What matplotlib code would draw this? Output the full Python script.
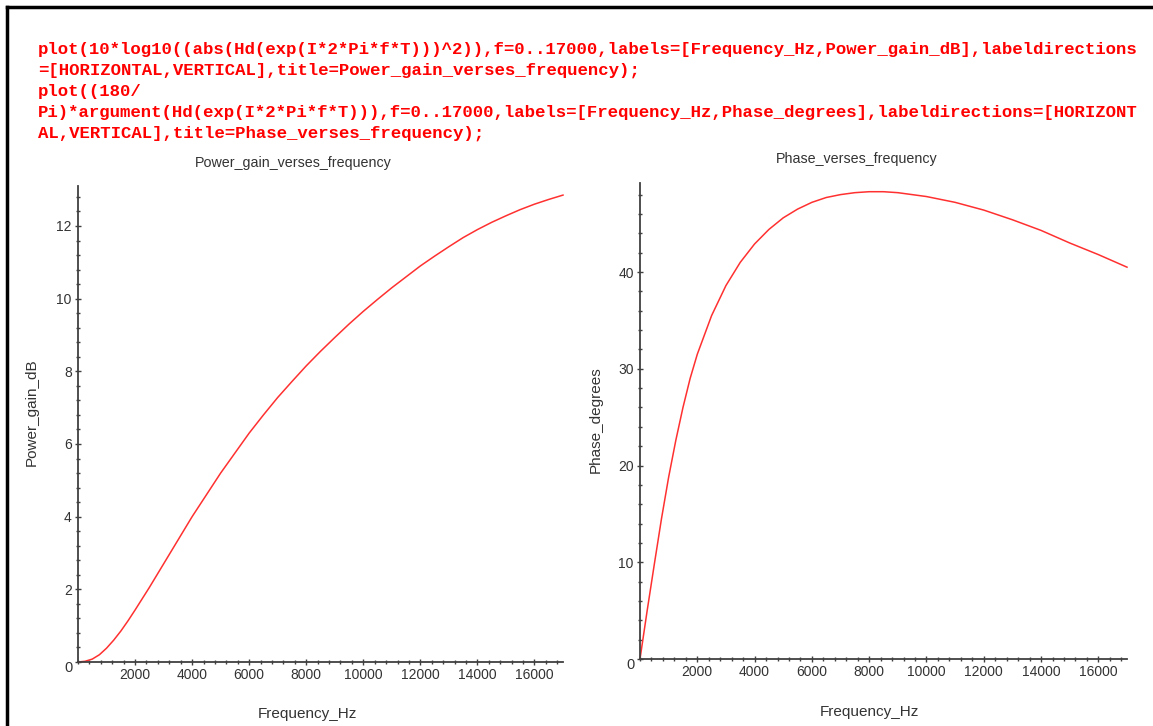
import matplotlib
matplotlib.use("Agg")
import matplotlib.pyplot as plt
from matplotlib.lines import Line2D
from matplotlib.ticker import MultipleLocator

# values
freq_gain = [0, 250, 500, 750, 1000, 1250, 1500, 1750, 2000, 2500, 3000, 3500,
             4000, 4500, 5000, 5500, 6000, 6500, 7000, 7500, 8000, 8500, 9000,
             9500, 10000, 10500, 11000, 11500, 12000, 12500, 13000, 13500,
             14000, 14500, 15000, 15500, 16000, 16500, 17000]
gain_db = [0, 0.02, 0.08, 0.2, 0.38, 0.6, 0.85, 1.13, 1.43, 2.05, 2.7, 3.35,
           4.0, 4.6, 5.2, 5.75, 6.3, 6.8, 7.28, 7.72, 8.15, 8.55, 8.93,
           9.3, 9.65, 9.98, 10.3, 10.6, 10.9, 11.17, 11.43, 11.68,
           11.9, 12.1, 12.28, 12.45, 12.6, 12.73, 12.85]

freq_phase = [0, 250, 500, 750, 1000, 1250, 1500, 1750, 2000, 2500, 3000, 3500,
              4000, 4500, 5000, 5500, 6000, 6500, 7000, 7500, 8000, 8500, 9000,
              9500, 10000, 11000, 12000, 13000, 14000, 15000, 16000, 17000]
phase_deg = [0, 5.0, 9.8, 14.5, 18.8, 22.6, 26.0, 29.0, 31.5, 35.5, 38.6, 41.0,
             42.9, 44.4, 45.6, 46.5, 47.2, 47.7, 48.0, 48.2, 48.3, 48.3, 48.2,
             48.0, 47.8, 47.2, 46.4, 45.4, 44.3, 43.0, 41.8, 40.5]

code_lines = [
    "plot(10*log10((abs(Hd(exp(I*2*Pi*f*T)))^2)),f=0..17000,labels=[Frequency_Hz,Power_gain_dB],labeldirections",
    "=[HORIZONTAL,VERTICAL],title=Power_gain_verses_frequency);",
    "plot((180/",
    "Pi)*argument(Hd(exp(I*2*Pi*f*T))),f=0..17000,labels=[Frequency_Hz,Phase_degrees],labeldirections=[HORIZONT",
    "AL,VERTICAL],title=Phase_verses_frequency);",
]

W, H = 1153, 726
fig = plt.figure(figsize=(W / 100, H / 100), dpi=100)
plt.rcParams['font.family'] = ['Liberation Sans', 'DejaVu Sans']

# frame lines of the worksheet (left and top only)
fig.add_artist(Line2D([7 / W, 7 / W], [0, 1 - 7 / H], color="black", lw=2.5))
fig.add_artist(Line2D([7 / W, 1], [1 - 7 / H, 1 - 7 / H], color="black", lw=2.5))

for i, line in enumerate(code_lines):
    fig.text(38 / W, 1 - (54 + 21 * i) / H, line, family="Liberation Mono",
             weight="bold", fontsize=12.5, color="#ff0000", va="baseline", ha="left")

grey = "#333333"


def style(ax, ymax, yticks, yminor):
    ax.set_xlim(0, 17000)
    ax.set_ylim(0, ymax)
    for s in ["top", "right"]:
        ax.spines[s].set_visible(False)
    for s in ["left", "bottom"]:
        ax.spines[s].set_color("#404040")
        ax.spines[s].set_linewidth(1.3)
    ax.xaxis.set_minor_locator(MultipleLocator(400))
    ax.yaxis.set_minor_locator(MultipleLocator(yminor))
    ax.set_xticks([2000 * k for k in range(1, 9)])
    ax.set_yticks(yticks)
    # the zero label is placed by hand like Maple does
    ax.set_yticklabels(["" if t == 0 else str(t) for t in yticks])
    ax.tick_params(which="major", direction="inout", length=5, width=1,
                   color="#404040", labelsize=10, labelcolor=grey, pad=2)
    ax.tick_params(which="minor", direction="inout", length=3, width=1, color="#404040")
    ax.set_facecolor("none")


ax1 = fig.add_axes([78 / W, (H - 662) / H, 485 / W, 476 / H])
ax1.plot(freq_gain, gain_db, color="#ff3030", lw=1.1, clip_on=False)
style(ax1, 13.1, [0, 2, 4, 6, 8, 10, 12], 0.4)
fig.text(293 / W, 1 - 163 / H, "Power_gain_verses_frequency", ha="center", va="center",
         fontsize=10.3, color=grey)
fig.text(307 / W, 1 - 714 / H, "Frequency_Hz", ha="center", va="center",
         fontsize=11, color=grey)
fig.text(32 / W, 1 - 412 / H, "Power_gain_dB", ha="center", va="center",
         rotation=90, fontsize=11, color=grey)
fig.text(73 / W, 1 - 668 / H, "0", ha="right", va="center", fontsize=10.5, color=grey)

ax2 = fig.add_axes([640 / W, (H - 659) / H, 487 / W, 476 / H])
ax2.plot(freq_phase, phase_deg, color="#ff3030", lw=1.1, clip_on=False)
style(ax2, 49.2, [0, 10, 20, 30, 40], 2)
fig.text(857 / W, 1 - 159 / H, "Phase_verses_frequency", ha="center", va="center",
         fontsize=10.3, color=grey)
fig.text(869 / W, 1 - 712 / H, "Frequency_Hz", ha="center", va="center",
         fontsize=11, color=grey)
fig.text(596 / W, 1 - 420 / H, "Phase_degrees", ha="center", va="center",
         rotation=90, fontsize=11, color=grey)
fig.text(635 / W, 1 - 665 / H, "0", ha="right", va="center", fontsize=10.5, color=grey)

fig.savefig("out.png", dpi=100)
